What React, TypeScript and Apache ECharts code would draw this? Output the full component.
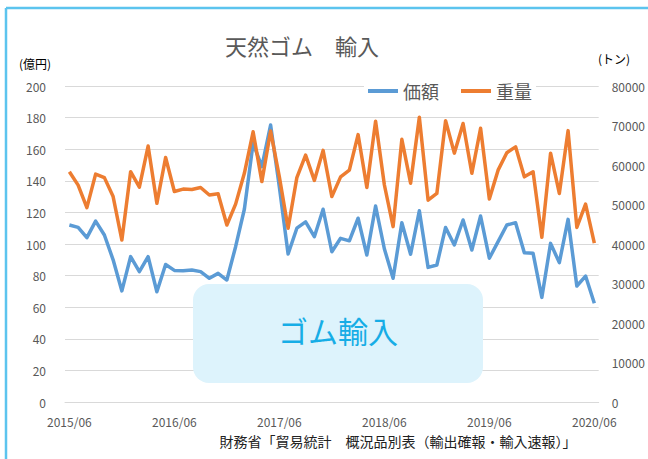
import React, { useEffect, useRef } from "react";
import * as echarts from "echarts";

const months = [
  "2015/06","2015/07","2015/08","2015/09","2015/10","2015/11","2015/12",
  "2016/01","2016/02","2016/03","2016/04","2016/05","2016/06","2016/07","2016/08","2016/09","2016/10","2016/11","2016/12",
  "2017/01","2017/02","2017/03","2017/04","2017/05","2017/06","2017/07","2017/08","2017/09","2017/10","2017/11","2017/12",
  "2018/01","2018/02","2018/03","2018/04","2018/05","2018/06","2018/07","2018/08","2018/09","2018/10","2018/11","2018/12",
  "2019/01","2019/02","2019/03","2019/04","2019/05","2019/06","2019/07","2019/08","2019/09","2019/10","2019/11","2019/12",
  "2020/01","2020/02","2020/03","2020/04","2020/05","2020/06",
];

// 価額 (億円)
const valueOku = [
  112, 110.5, 104, 114.5, 105.7, 90, 70.3, 92, 82.5, 92, 69.8, 87,
  83.3, 83.1, 83.5, 82.5, 78.3, 81.4, 77.2, 98.3, 122, 163.7, 149, 175.3,
  136, 93.7, 110, 114, 104.6, 122, 95.1, 103.6, 102, 116.3, 93, 124,
  97, 78.3, 113.5, 93.5, 121, 85.2, 86.7, 110.5, 99.4, 115.2, 96.2, 117.7,
  91, 101.5, 112, 113.5, 94.5, 94.1, 66.2, 100.4, 88.2, 115.6, 73.4, 79.7,
  62.5,
];

// 重量 (トン)
const weightTon = [
  58300, 54900, 49200, 57700, 56800, 52000, 41000, 58300, 54400, 64800, 50300, 61900,
  53300, 53900, 53800, 54300, 52400, 52700, 44800, 50100, 57900, 68400, 55800, 68600,
  57000, 44000, 56800, 62500, 56100, 63700, 52000, 57000, 58700, 67700, 54300, 71100,
  55000, 44400, 66500, 55400, 72100, 51100, 52800, 71200, 63000, 70500, 57900, 69300,
  51400, 58700, 63100, 64600, 57000, 58300, 41700, 63000, 52800, 68700, 44200, 50100,
  40200,
];

const seriesNames = ["価額", "重量"];
const titleText = "天然ゴム　輸入";
const leftUnit = "(億円)";
const rightUnit = "(トン)";
const sourceText = "財務省「貿易統計　概況品別表（輸出確報・輸入速報）」";
const boxText = "ゴム輸入";

const FONT = "'Noto Sans CJK JP', 'Noto Sans', sans-serif";
const GRAY = "#595959";

export default function App() {
  const ref = useRef<HTMLDivElement>(null);
  useEffect(() => {
    if (!ref.current) return;
    const chart = echarts.init(ref.current, null, { renderer: "svg" });
    chart.setOption({
      animation: false,
      backgroundColor: "#ffffff",
      textStyle: { fontFamily: FONT },
      grid: { left: 65, right: 49, top: 86, bottom: 57 },
      legend: {
        data: seriesNames,
        left: 364,
        top: 80,
        icon: "rect",
        itemWidth: 30,
        itemHeight: 4,
        itemGap: 22,
        backgroundColor: "#ffffff",
        padding: [2, 4, 2, 4],
        textStyle: { fontSize: 18, color: GRAY, fontFamily: FONT },
      },
      xAxis: {
        type: "category",
        data: months,
        boundaryGap: true,
        axisLine: { show: true, lineStyle: { color: "#d9d9d9", width: 1 } },
        axisTick: { show: false },
        axisLabel: { interval: 11, color: GRAY, fontSize: 12, margin: 13, fontFamily: FONT },
        splitLine: { show: false },
      },
      yAxis: [
        {
          type: "value",
          min: 0,
          max: 200,
          interval: 20,
          axisLine: { show: false },
          axisTick: { show: false },
          axisLabel: { color: GRAY, fontSize: 12, margin: 19, fontFamily: FONT },
          splitLine: { show: true, lineStyle: { color: "#d9d9d9", width: 1 } },
        },
        {
          type: "value",
          min: 0,
          max: 80000,
          interval: 10000,
          position: "right",
          axisLine: { show: false },
          axisTick: { show: false },
          axisLabel: {
            color: GRAY,
            fontSize: 12,
            margin: 13,
            fontFamily: FONT,
            formatter: (v: number) => String(v),
          },
          splitLine: { show: false },
        },
      ],
      series: [
        {
          name: seriesNames[0],
          type: "line",
          yAxisIndex: 0,
          data: valueOku,
          showSymbol: false,
          symbol: "none",
          lineStyle: { color: "#5b9bd5", width: 3.5, join: "round" },
          itemStyle: { color: "#5b9bd5" },
          z: 3,
        },
        {
          name: seriesNames[1],
          type: "line",
          yAxisIndex: 1,
          data: weightTon,
          showSymbol: false,
          symbol: "none",
          lineStyle: { color: "#ed7d31", width: 3.5, join: "round" },
          itemStyle: { color: "#ed7d31" },
          z: 4,
        },
      ],
      graphic: [
        { type: "line", shape: { x1: 6, y1: 8, x2: 648, y2: 8 }, style: { stroke: "#5cc4ee", lineWidth: 2.5 }, z: 10 },
        { type: "line", shape: { x1: 6, y1: 8, x2: 6, y2: 459 }, style: { stroke: "#5cc4ee", lineWidth: 2.5 }, z: 10 },
        {
          type: "text",
          x: 302,
          y: 45,
          style: { text: titleText, fontSize: 22, fill: GRAY, fontFamily: FONT, align: "center", verticalAlign: "middle" },
        },
        {
          type: "text",
          x: 19,
          y: 63,
          style: { text: leftUnit, fontSize: 12, fill: "#000000", fontFamily: FONT, align: "left", verticalAlign: "middle" },
        },
        {
          type: "text",
          x: 598,
          y: 58,
          style: { text: rightUnit, fontSize: 12, fill: "#000000", fontFamily: FONT, align: "left", verticalAlign: "middle" },
        },
        {
          type: "text",
          x: 398,
          y: 441,
          style: { text: sourceText, fontSize: 14, fill: "#222222", fontFamily: FONT, align: "center", verticalAlign: "middle" },
        },
        {
          type: "rect",
          shape: { x: 193, y: 284, width: 290, height: 99, r: 16 },
          style: { fill: "#ddf3fc" },
          z: 2,
        },
        {
          type: "text",
          x: 338,
          y: 330,
          style: { text: boxText, fontSize: 30, fill: "#16ade6", fontFamily: FONT, align: "center", verticalAlign: "middle" },
          z: 3,
        },
      ],
    });
    return () => chart.dispose();
  }, []);
  return (
    <div
      ref={ref}
      style={{ position: "fixed", left: 0, top: 0, width: 648, height: 459, background: "#fff" }}
    />
  );
}
